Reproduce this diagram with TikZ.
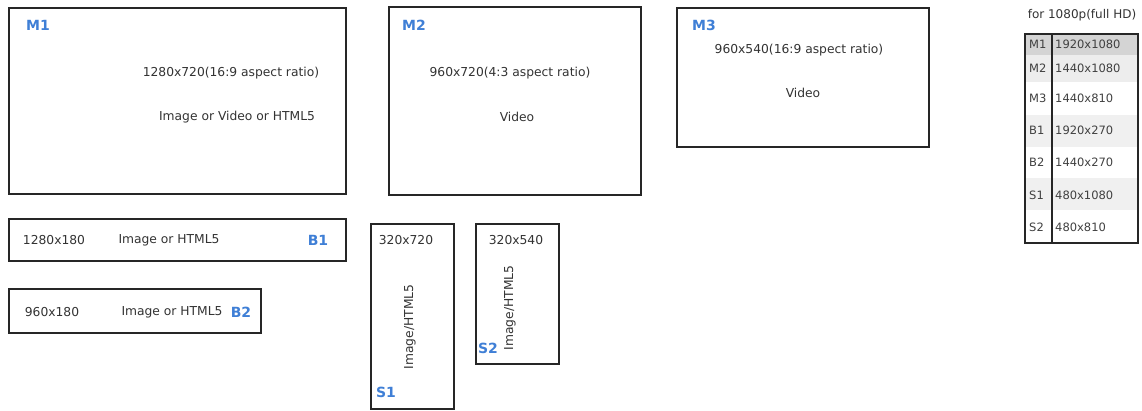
\documentclass[tikz,border=0pt]{standalone}
\usepackage{fontspec}
\setmainfont{DejaVu Sans}
\usetikzlibrary{positioning}
\definecolor{lblblue}{HTML}{3F7FD6}
\tikzset{
  box/.style={draw=black!85, line width=1.6pt, anchor=north west, inner sep=0pt, fill=white},
  txt/.style={font=\fontsize{12.3}{14}\selectfont, text=black!80, inner sep=0pt},
  lbl/.style={font=\bfseries\fontsize{14}{16}\selectfont, text=lblblue, inner sep=0pt},
  tbl/.style={font=\fontsize{11.5}{13}\selectfont, text=black!75, inner sep=0pt, anchor=west},
}
\begin{document}
\begin{tikzpicture}[x=1pt,y=-1pt]
\useasboundingbox (0,0) rectangle (1142,410);
% main boxes
\node[box, minimum width=337pt, minimum height=186pt] (m1) at (8,7) {};
\node[box, minimum width=252pt, minimum height=188pt] (m2) at (388,6) {};
\node[box, minimum width=252pt, minimum height=139pt] (m3) at (676,7) {};
\node[box, minimum width=337pt, minimum height=42pt] (b1) at (8,218) {};
\node[box, minimum width=252pt, minimum height=44pt] (b2) at (8,288) {};
\node[box, minimum width=83pt, minimum height=185pt] (s1) at (370,223) {};
\node[box, minimum width=83pt, minimum height=140pt] (s2) at (475,223) {};
% M1
\node[lbl] (m1l) at (38,25) {M1};
\node[txt] (m1t) at (231,73) {1280x720(16:9 aspect ratio)};
\node[txt] (m1v) at (237,117) {Image or Video or HTML5};
% M2
\node[lbl] (m2l) at (414,25) {M2};
\node[txt] (m2t) at (510,73) {960x720(4:3 aspect ratio)};
\node[txt] (m2v) at (517,117) {Video};
% M3
\node[lbl] (m3l) at (704,25) {M3};
\node[txt] (m3t) at (799,50) {960x540(16:9 aspect ratio)};
\node[txt] (m3v) at (803,93) {Video};
% B1
\node[txt] (b1t) at (54,240) {1280x180};
\node[txt] (b1v) at (169,240) {Image or HTML5};
\node[lbl] (b1l) at (318,240) {B1};
% B2
\node[txt] (b2t) at (52,312) {960x180};
\node[txt] (b2v) at (172,312) {Image or HTML5};
\node[lbl] (b2l) at (241,312) {B2};
% S1
\node[txt] (s1t) at (406,240) {320x720};
\node[txt, rotate=90] (s1v) at (410,327) {Image/HTML5};
\node[lbl] (s1l) at (386,392) {S1};
% S2
\node[txt] (s2t) at (516,240) {320x540};
\node[txt, rotate=90] (s2v) at (510,308) {Image/HTML5};
\node[lbl] (s2l) at (488,348) {S2};
% table
\node[txt, font=\fontsize{12}{14}\selectfont] (tt) at (1082,15) {for 1080p(full HD)};
\fill[black!17] (1025,34) rectangle (1138,55);
\fill[black!7] (1025,55) rectangle (1138,82);
\fill[black!6] (1025,115) rectangle (1138,147);
\fill[black!6] (1025,178) rectangle (1138,210);
\draw[draw=black!85, line width=1.4pt] (1025,34) rectangle (1138,243);
\coordinate (dt) at (1052,34);
\coordinate (db) at (1052,243);
\draw[draw=black!85, line width=1.1pt] (dt) -- (db);
\foreach \y/\a/\b in {44/M1/1920x1080, 68/M2/1440x1080, 98/M3/1440x810, 130/B1/1920x270, 162/B2/1440x270, 195/S1/480x1080, 227/S2/480x810}{
  \node[tbl] at (1029,\y) {\a};
  \node[tbl] at (1055,\y) {\b};
}
\end{tikzpicture}
\end{document}
